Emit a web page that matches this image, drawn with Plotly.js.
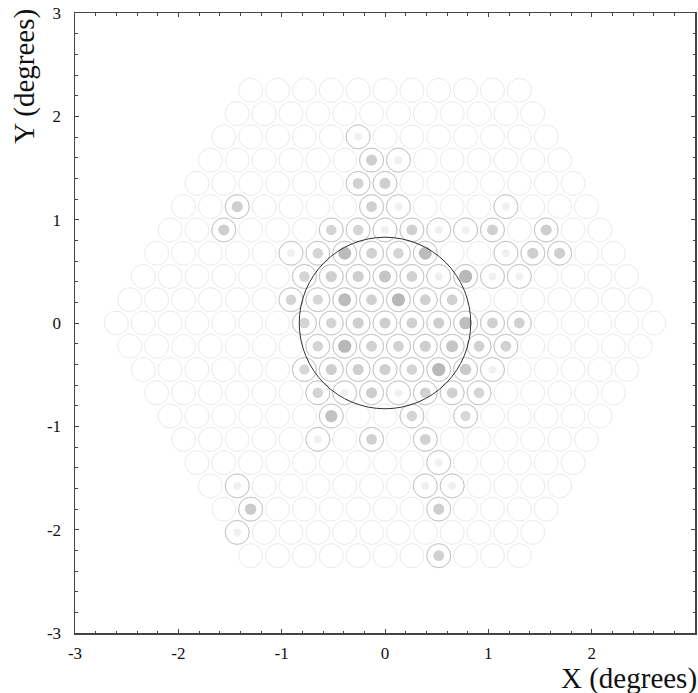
<!DOCTYPE html>
<html>
<head>
<meta charset="utf-8">
<script src="https://cdn.plot.ly/plotly-3.0.1.min.js"></script>
<style>
  html, body { margin: 0; padding: 0; background: #fff; }
  #cam { width: 698px; height: 693px; }
</style>
</head>
<body>
<div id="cam"></div>
<script>
// Camera geometry: hexagonal pixel layout, pitch in degrees, rings around centre
const pixelPitch = 0.26;
const cameraRings = 10;

// Pixels with signal: row index, half-pitch column index, relative amplitude
const hitRow = [
  8,
  7, 7,
  6, 6,
  5, 5, 5, 5,
  4, 4, 4, 4, 4, 4, 4, 4, 4,
  3, 3, 3, 3, 3, 3, 3, 3, 3,
  2, 2, 2, 2, 2, 2, 2, 2, 2,
  1, 1, 1, 1, 1, 1, 1,
  0, 0, 0, 0, 0, 0, 0, 0, 0,
  -1, -1, -1, -1, -1, -1, -1, -1,
  -2, -2, -2, -2, -2, -2, -2, -2,
  -3, -3, -3, -3, -3, -3, -3,
  -4, -4, -4,
  -5, -5, -5,
  -6,
  -7, -7, -7,
  -8, -8,
  -9,
  -10
];
const hitCol = [
  -2,
  -1, 1,
  -2, 0,
  -11, -1, 1, 9,
  -12, -4, -2, 0, 2, 4, 6, 8, 12,
  -7, -5, -3, -1, 1, 3, 9, 11, 13,
  -6, -4, -2, 0, 2, 4, 6, 8, 10,
  -7, -5, -3, -1, 1, 3, 5,
  -6, -4, -2, 0, 2, 4, 6, 8, 10,
  -5, -3, -1, 1, 3, 5, 7, 9,
  -6, -4, -2, 0, 2, 4, 6, 8,
  -5, -3, -1, 1, 3, 5, 7,
  -4, 2, 6,
  -5, -1, 3,
  4,
  -11, 3, 5,
  -10, 4,
  -11,
  4
];
const hitAmp = [
  0.05,
  0.60, 0.05,
  0.55, 0.60,
  0.60, 0.55, 0.05, 0.05,
  0.60, 0.50, 0.50, 0.05, 0.55, 0.05, 0.05, 0.55, 0.60,
  0.05, 0.50, 0.90, 0.55, 0.50, 0.90, 0.05, 0.60, 0.60,
  0.50, 0.60, 0.60, 0.75, 0.55, 0.05, 0.95, 0.05, 0.05,
  0.50, 0.45, 0.90, 0.55, 0.95, 0.55, 0.55,
  0.50, 0.50, 0.60, 0.60, 0.55, 0.60, 0.85, 0.55, 0.55,
  0.50, 0.95, 0.55, 0.55, 0.60, 0.75, 0.55, 0.55,
  0.45, 0.60, 0.60, 0.60, 0.50, 0.95, 0.65, 0.05,
  0.50, 0.05, 0.60, 0.05, 0.55, 0.55, 0.50,
  0.80, 0.50, 0.45,
  0.05, 0.55, 0.55,
  0.05,
  0.05, 0.05, 0.05,
  0.65, 0.60,
  0.05,
  0.55
];

// Source region: centre and radius (degrees)
const regionCentre = [0, 0];
const regionRadius = 0.83;

// Axis ticks
const tickValues = [-3, -2, -1, 0, 1, 2, 3];
const tickLabels = ['-3', '-2', '-1', '0', '1', '2', '3'];

const rowStep = pixelPitch * Math.sqrt(3) / 2;
const colX = (c) => c * pixelPitch / 2;
const rowY = (r) => r * rowStep;

// Every camera pixel
const pixX = [], pixY = [];
for (let r = -cameraRings; r <= cameraRings; r++) {
  const span = 2 * cameraRings - Math.abs(r);
  for (let c = -span; c <= span; c += 2) {
    pixX.push(colX(c));
    pixY.push(rowY(r));
  }
}

const hitX = hitCol.map(colX);
const hitY = hitRow.map(rowY);
const dotSize = hitAmp.map(a => 7.5 + 6 * a);

const serif = 'Liberation Serif, Times New Roman, serif';

const traces = [
  {
    type: 'scatter', mode: 'markers', x: pixX, y: pixY, hoverinfo: 'skip',
    marker: { symbol: 'circle-open', size: 24, color: '#eaeaea', line: { width: 1, color: '#eaeaea' } }
  },
  {
    type: 'scatter', mode: 'markers', x: hitX, y: hitY, hoverinfo: 'skip',
    marker: { symbol: 'circle-open', size: 24, color: '#c4c4c4', line: { width: 1, color: '#c4c4c4' } }
  },
  {
    type: 'scatter', mode: 'markers', x: hitX, y: hitY,
    marker: {
      symbol: 'circle', size: dotSize, color: hitAmp, cmin: 0, cmax: 1,
      colorscale: [[0, '#eeeeee'], [1, '#969696']], showscale: false,
      line: { width: 0 }
    }
  }
];

const axisCommon = {
  range: [-3, 3],
  tickmode: 'array',
  tickvals: tickValues,
  ticktext: tickLabels,
  ticks: 'inside',
  ticklen: 4,
  tickwidth: 1,
  tickcolor: '#444',
  showline: true,
  linecolor: '#444',
  linewidth: 1.5,
  mirror: 'ticks',
  showgrid: false,
  zeroline: false,
  tickfont: { family: serif, size: 17, color: '#111' },
  minor: { dtick: 0.2, tick0: 0, ticks: 'inside', ticklen: 2.5, tickcolor: '#444', showgrid: false }
};

const layout = {
  width: 698,
  height: 693,
  margin: { l: 75, r: 3, t: 13, b: 60 },
  paper_bgcolor: '#fff',
  plot_bgcolor: '#fff',
  showlegend: false,
  xaxis: Object.assign({}, axisCommon, { ticklabelstandoff: 4 }),
  yaxis: Object.assign({}, axisCommon, { ticklabelstandoff: 9 }),
  shapes: [{
    type: 'circle', xref: 'x', yref: 'y', layer: 'above',
    x0: regionCentre[0] - regionRadius, x1: regionCentre[0] + regionRadius,
    y0: regionCentre[1] - regionRadius, y1: regionCentre[1] + regionRadius,
    line: { color: '#333', width: 1 }
  }],
  annotations: [
    {
      text: 'X (degrees)', xref: 'paper', yref: 'paper', x: 1, y: 0,
      xanchor: 'right', yanchor: 'middle', xshift: 4, yshift: -45,
      showarrow: false, font: { family: serif, size: 29, color: '#111' }
    },
    {
      text: 'Y (degrees)', xref: 'paper', yref: 'paper', x: 0, y: 0.897,
      xanchor: 'center', yanchor: 'middle', xshift: -50, textangle: -90,
      showarrow: false, font: { family: serif, size: 29, color: '#111' }
    }
  ]
};

Plotly.newPlot('cam', traces, layout, { staticPlot: true, displayModeBar: false });
</script>
</body>
</html>
